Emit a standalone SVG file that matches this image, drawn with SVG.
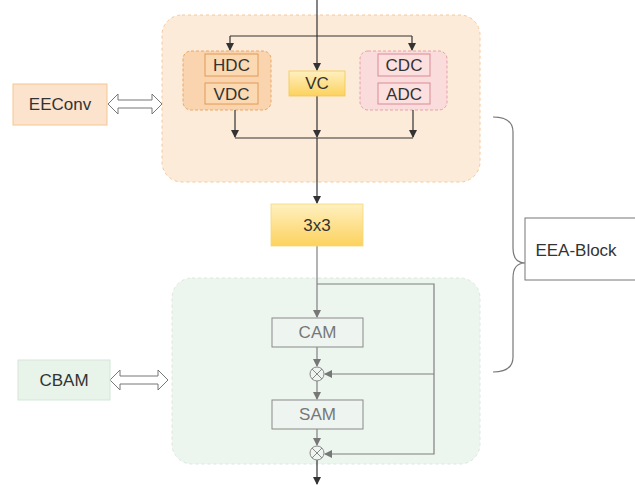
<svg xmlns="http://www.w3.org/2000/svg" width="635" height="485" viewBox="0 0 635 485">
<defs>
<linearGradient id="yel" x1="0" y1="0" x2="0" y2="1"><stop offset="0" stop-color="#fff0c0"/><stop offset="1" stop-color="#fcd25e"/></linearGradient>
<marker id="ah" markerWidth="8" markerHeight="8" refX="7" refY="4" orient="auto" markerUnits="userSpaceOnUse"><path d="M0,0 L8,4 L0,8 Z" fill="#333"/></marker>
<marker id="ahg" markerWidth="8" markerHeight="8" refX="7" refY="4" orient="auto" markerUnits="userSpaceOnUse"><path d="M0,0 L8,4 L0,8 Z" fill="#777"/></marker>
</defs>
<style>
text{font-family:"Liberation Sans",Arial,sans-serif;text-anchor:middle;dominant-baseline:central;font-size:17px}
.k{stroke:#333;stroke-width:1.2;fill:none}
.g{stroke:#808080;stroke-width:1.2;fill:none}
.dbl{fill:#fff;stroke:#777;stroke-width:1}
</style>
<rect width="635" height="485" fill="#fff"/>
<g id="eeconv-container"><rect x="162" y="15" width="318" height="167" rx="20" fill="#fdebd9" stroke="#f6c89c" stroke-dasharray="3,3"/></g>
<g id="cbam-container"><rect x="172" y="278" width="308" height="186" rx="20" fill="#edf5ef" stroke="#dbe8de" stroke-dasharray="3,3"/></g>
<g id="hv-group"><rect x="183" y="51" width="88" height="59" rx="8" fill="#f9d4ae" stroke="#e8a868" stroke-dasharray="3,2"/></g>
<g id="ca-group"><rect x="360" y="51" width="87" height="59" rx="8" fill="#fbdcdc" stroke="#e6a0a8" stroke-dasharray="3,2"/></g>
<g id="connectors">
<path class="k" d="M317,0 V70" marker-end="url(#ah)"/>
<path class="k" d="M230,36 H412"/>
<path class="k" d="M230,36 V50" marker-end="url(#ah)"/>
<path class="k" d="M412,36 V50" marker-end="url(#ah)"/>
<path class="k" d="M235,110 V137" marker-end="url(#ah)"/>
<path class="k" d="M413,110 V137" marker-end="url(#ah)"/>
<path class="k" d="M317,96 V137" marker-end="url(#ah)"/>
<path class="k" d="M235,138 H413"/>
<path class="k" d="M317,138 V203" marker-end="url(#ah)"/>
<path class="g" d="M317,246 V317" marker-end="url(#ahg)"/>
<path class="g" d="M317,284 H434 V454 H325" marker-end="url(#ahg)"/>
<path class="g" d="M434,374 H325" marker-end="url(#ahg)"/>
<path class="g" d="M317,347 V366" marker-end="url(#ahg)"/>
<path class="g" d="M317,381 V399" marker-end="url(#ahg)"/>
<path class="g" d="M317,429 V445" marker-end="url(#ahg)"/>
<path class="k" d="M317,460 V484" marker-end="url(#ah)"/>
<path class="dbl" d="M108,104 L118,94 V100 H152 V94 L162,104 L152,114 V108 H118 V114 Z"/>
<path class="dbl" d="M110,380 L120,370 V376 H158 V370 L168,380 L158,390 V384 H120 V390 Z"/>
<path d="M493,117 Q513,117 513,132 V248 Q513,263 525,263 Q513,263 513,278 V357 Q513,372 493,372" fill="none" stroke="#777" stroke-width="1.2"/>
</g>
<g id="hdc"><rect x="205" y="54" width="53" height="22" fill="#fbd9b3" stroke="#e39a55"/><text x="231.5" y="65.5" fill="#333">HDC</text></g>
<g id="vdc"><rect x="205" y="83" width="53" height="21" fill="#fbd9b3" stroke="#e39a55"/><text x="231.5" y="94" fill="#333">VDC</text></g>
<g id="vc"><rect x="289" y="71" width="56" height="25" fill="url(#yel)" stroke="#f0c850" stroke-width="0.8"/><text x="317" y="83.5" fill="#333">VC</text></g>
<g id="cdc"><rect x="378" y="54" width="52" height="22" fill="#fce0e0" stroke="#d98a94"/><text x="404" y="65.5" fill="#333">CDC</text></g>
<g id="adc"><rect x="378" y="83" width="52" height="21" fill="#fce0e0" stroke="#d98a94"/><text x="404" y="94" fill="#333">ADC</text></g>
<g id="eeconv"><rect x="13" y="84" width="94" height="41" fill="#fce3cd" stroke="#f5c68e"/><text x="60" y="104.5" fill="#333">EEConv</text></g>
<g id="conv3x3"><rect x="271" y="204" width="92" height="42" fill="url(#yel)" stroke="#f5d77a" stroke-width="0.8"/><text x="317" y="225" fill="#333">3x3</text></g>
<g id="cam"><rect x="272" y="318" width="91" height="29" fill="#eef5f0" stroke="#8a8a8a"/><text x="317.5" y="332.5" fill="#777">CAM</text></g>
<g id="mul1"><circle cx="317" cy="374" r="7" fill="#eef5f0" stroke="#888"/><path d="M312,369 L322,379 M322,369 L312,379" stroke="#888"/></g>
<g id="sam"><rect x="272" y="400" width="91" height="29" fill="#eef5f0" stroke="#8a8a8a"/><text x="317.5" y="414.5" fill="#777">SAM</text></g>
<g id="mul2"><circle cx="317" cy="453" r="7" fill="#eef5f0" stroke="#888"/><path d="M312,448 L322,458 M322,448 L312,458" stroke="#888"/></g>
<g id="cbam"><rect x="18" y="360" width="92" height="40" fill="#e8f3ea" stroke="#d5e5d9"/><text x="64" y="380" fill="#333">CBAM</text></g>
<g id="eea-block"><rect x="525" y="218" width="115" height="62" fill="#fff" stroke="#777"/><text x="576" y="250" fill="#333">EEA-Block</text></g>
</svg>
